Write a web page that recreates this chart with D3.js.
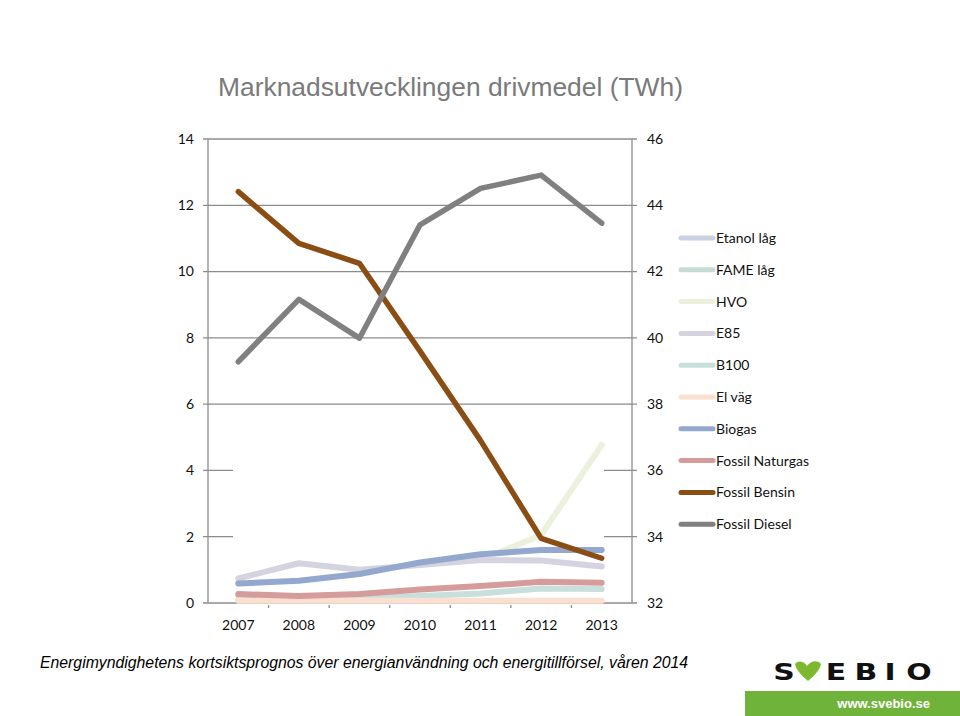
<!DOCTYPE html>
<html>
<head>
<meta charset="utf-8">
<script src="https://cdn.jsdelivr.net/npm/d3@7/dist/d3.min.js"></script>
<style>
  html, body { margin: 0; padding: 0; background: #fff; }
  svg { display: block; }
</style>
</head>
<body>
<svg id="chart" width="960" height="716"></svg>
<script>
// ---- Data ----
const years = ["2007", "2008", "2009", "2010", "2011", "2012", "2013"];
const leftTicks = [0, 2, 4, 6, 8, 10, 12, 14];
const rightTicks = [32, 34, 36, 38, 40, 42, 44, 46];

// left-axis series (TWh)
const etanolLag   = [null, null, null, null, null, null, null];
const fameLag     = [null, null, null, null, null, null, null];
const hvo         = [null, null, null, null, 1.3, 2.05, 4.77];
const e85         = [0.74, 1.2, 1.0, 1.15, 1.3, 1.28, 1.1];
const b100        = [0.1, 0.12, 0.15, 0.21, 0.29, 0.44, 0.42];
const elVag       = [0.07, 0.07, 0.07, 0.07, 0.07, 0.07, 0.07];
const biogas      = [0.59, 0.67, 0.875, 1.22, 1.47, 1.6, 1.6];
const naturgas    = [0.27, 0.21, 0.27, 0.41, 0.51, 0.64, 0.61];
// right-axis series (TWh)
const bensin      = [44.41, 42.85, 42.25, 39.6, 36.9, 33.95, 33.35];
const diesel      = [39.28, 41.16, 39.99, 43.41, 44.51, 44.91, 43.46];

const seriesNames  = ["Etanol låg", "FAME låg", "HVO", "E85", "B100", "El väg", "Biogas", "Fossil Naturgas", "Fossil Bensin", "Fossil Diesel"];
const seriesValues = [etanolLag, fameLag, hvo, e85, b100, elVag, biogas, naturgas, bensin, diesel];
const seriesAxis   = ["left", "left", "left", "left", "left", "left", "left", "left", "right", "right"];
const seriesColors = ["#c8d2e2", "#c7dcd7", "#ebf1dd", "#d5d3df", "#c8dfdc", "#fbdfd1", "#94a8cf", "#d69b9b", "#8a4e14", "#808080"];

// ---- Layout ----
const svg = d3.select("#chart");
const plotL = 208, plotR = 632, plotT = 139, plotB = 603;

const x = d3.scaleBand().domain(years).range([plotL, plotR]).paddingInner(0).paddingOuter(0);
const xc = d => x(d) + x.bandwidth() / 2;
const yL = d3.scaleLinear().domain([0, 14]).range([plotB, plotT]);
const yR = d3.scaleLinear().domain([32, 46]).range([plotB, plotT]);

const axisColor = "#8c8c8c";
const fontTick = "Lato, 'Open Sans', sans-serif";

// title
svg.append("text")
  .attr("x", 218).attr("y", 96)
  .attr("font-family", "'Liberation Sans', Arial, sans-serif")
  .attr("font-size", 26.4)
  .attr("fill", "#7a7a7a")
  .text("Marknadsutvecklingen drivmedel (TWh)");

// gridlines
const grid = svg.append("g");
grid.selectAll("line").data(leftTicks).join("line")
  .attr("x1", plotL - 5).attr("x2", plotR + 5)
  .attr("y1", d => yL(d)).attr("y2", d => yL(d))
  .attr("stroke", axisColor).attr("stroke-width", 1.3);

// white mask hiding the middle of low gridlines (as in reference)
svg.append("rect")
  .attr("x", 233).attr("width", 604 - 233)
  .attr("y", yL(5)).attr("height", yL(1) - yL(5))
  .attr("fill", "#fff");

// vertical axes
svg.append("line").attr("x1", plotL).attr("x2", plotL).attr("y1", plotT).attr("y2", plotB)
  .attr("stroke", axisColor).attr("stroke-width", 1.3);
svg.append("line").attr("x1", plotR).attr("x2", plotR).attr("y1", plotT).attr("y2", plotB)
  .attr("stroke", axisColor).attr("stroke-width", 1.3);

// x minor ticks at band boundaries
svg.append("g").selectAll("line").data(years.slice(1)).join("line")
  .attr("x1", d => x(d)).attr("x2", d => x(d))
  .attr("y1", plotB + 2).attr("y2", plotB + 5)
  .attr("stroke", axisColor).attr("stroke-width", 1.3);

// left tick labels
svg.append("g").selectAll("text").data(leftTicks).join("text")
  .attr("x", 194).attr("y", d => yL(d)).attr("dy", "0.35em")
  .attr("text-anchor", "end")
  .attr("font-family", fontTick).attr("font-size", 14).attr("fill", "#111")
  .text(d => d);

// right tick labels
svg.append("g").selectAll("text").data(rightTicks).join("text")
  .attr("x", 647).attr("y", d => yR(d)).attr("dy", "0.35em")
  .attr("text-anchor", "start")
  .attr("font-family", fontTick).attr("font-size", 14).attr("fill", "#111")
  .text(d => d);

// x labels
svg.append("g").selectAll("text").data(years).join("text")
  .attr("x", d => xc(d)).attr("y", 630)
  .attr("text-anchor", "middle")
  .attr("font-family", fontTick).attr("font-size", 14).attr("fill", "#111")
  .text(d => d);

// series lines
const seriesG = svg.append("g");
seriesNames.forEach((name, i) => {
  const ys = seriesAxis[i] === "left" ? yL : yR;
  const pts = years.map((yr, j) => ({ yr, v: seriesValues[i][j] }));
  const line = d3.line()
    .defined(p => p.v !== null)
    .x(p => xc(p.yr))
    .y(p => ys(p.v));
  seriesG.append("path")
    .datum(pts)
    .attr("d", line)
    .attr("fill", "none")
    .attr("stroke", seriesColors[i])
    .attr("stroke-width", i >= 8 ? 5.5 : 6)
    .attr("stroke-linecap", "round")
    .attr("stroke-linejoin", "round");
});

// legend
const legend = svg.append("g");
seriesNames.forEach((name, i) => {
  const ly = 238 + i * 31.8;
  legend.append("line")
    .attr("x1", 681).attr("x2", 713).attr("y1", ly).attr("y2", ly)
    .attr("stroke", seriesColors[i]).attr("stroke-width", 5)
    .attr("stroke-linecap", "round");
  legend.append("text")
    .attr("x", 716).attr("y", ly).attr("dy", "0.35em")
    .attr("font-family", fontTick).attr("font-size", 14).attr("fill", "#111")
    .text(name);
});

// footer source
svg.append("text")
  .attr("x", 40).attr("y", 668)
  .attr("font-family", "'Liberation Sans', Arial, sans-serif")
  .attr("font-style", "italic")
  .attr("font-size", 15.8)
  .attr("fill", "#000")
  .text("Energimyndighetens kortsiktsprognos över energianvändning och energitillförsel, våren 2014");

// logo
const logo = svg.append("g");
logo.append("rect").attr("x", 745).attr("y", 691).attr("width", 215).attr("height", 25).attr("fill", "#6fb33a");
logo.append("text").attr("x", 930).attr("y", 708).attr("text-anchor", "end")
  .attr("font-family", "'Liberation Sans', Arial, sans-serif").attr("font-size", 13).attr("font-weight", "bold")
  .attr("fill", "#fff").text("www.svebio.se");
const letters = [["S", 784], ["E", 836], ["B", 866], ["I", 890], ["O", 919]];
letters.forEach(([ch, cx]) => {
  logo.append("text").attr("x", cx).attr("y", 680).attr("text-anchor", "middle")
    .attr("font-family", "'DejaVu Sans', sans-serif").attr("font-weight", "bold").attr("font-size", 23)
    .attr("transform", `translate(${cx},0) scale(1.3,1) translate(${-cx},0)`)
    .attr("fill", "#111").text(ch);
});
// green heart-like V
logo.append("path")
  .attr("d", "M795,664 C797,661 803,660 807,666 C811,660 818,660 821,664 C820,670 813,677 808,681 C803,677 796,670 795,664 Z")
  .attr("fill", "#7cb92e");
</script>
</body>
</html>
